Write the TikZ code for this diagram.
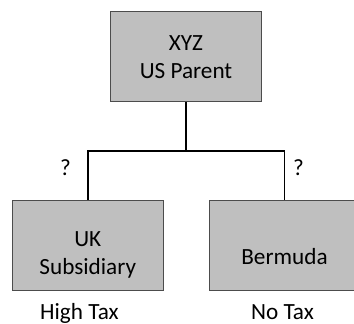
\documentclass[tikz,border=0pt]{standalone}
\usepackage{fontspec}
\setmainfont{Carlito}
\begin{document}
\begin{tikzpicture}[x=1pt,y=-1pt,
  entity/.style={draw=black!70, line width=0.9pt, fill=black!25, minimum width=151pt, minimum height=90pt, inner sep=0pt, align=center, font=\fontsize{23.2}{27.6}\selectfont, text depth=0pt},
  conn/.style={draw=black, line width=1.6pt},
  txt/.style={inner sep=0pt, anchor=base, font=\fontsize{23.2}{27.6}\selectfont}]
\useasboundingbox (0,0) rectangle (354,324);
\node[entity, text height=43.6pt] (parent) at (186,56.5) {XYZ\\US Parent};
\node[entity, text height=58pt] (uk) at (87.75,245) {UK\\Subsidiary};
\node[entity, text height=38pt] (bm) at (284.5,245) {Bermuda};
\coordinate (junction) at (186,151);
\draw[conn] (parent.south) -- (junction);
\draw[conn] (uk.north) |- (junction) -| (bm.north);
\node[txt] (q1) at (65.5,175.7) {?};
\node[txt] (q2) at (298.5,175.7) {?};
\node[txt] (hightax) at (79.5,319) {High Tax};
\node[txt] (notax) at (282.5,319) {No Tax};
\end{tikzpicture}
\end{document}
